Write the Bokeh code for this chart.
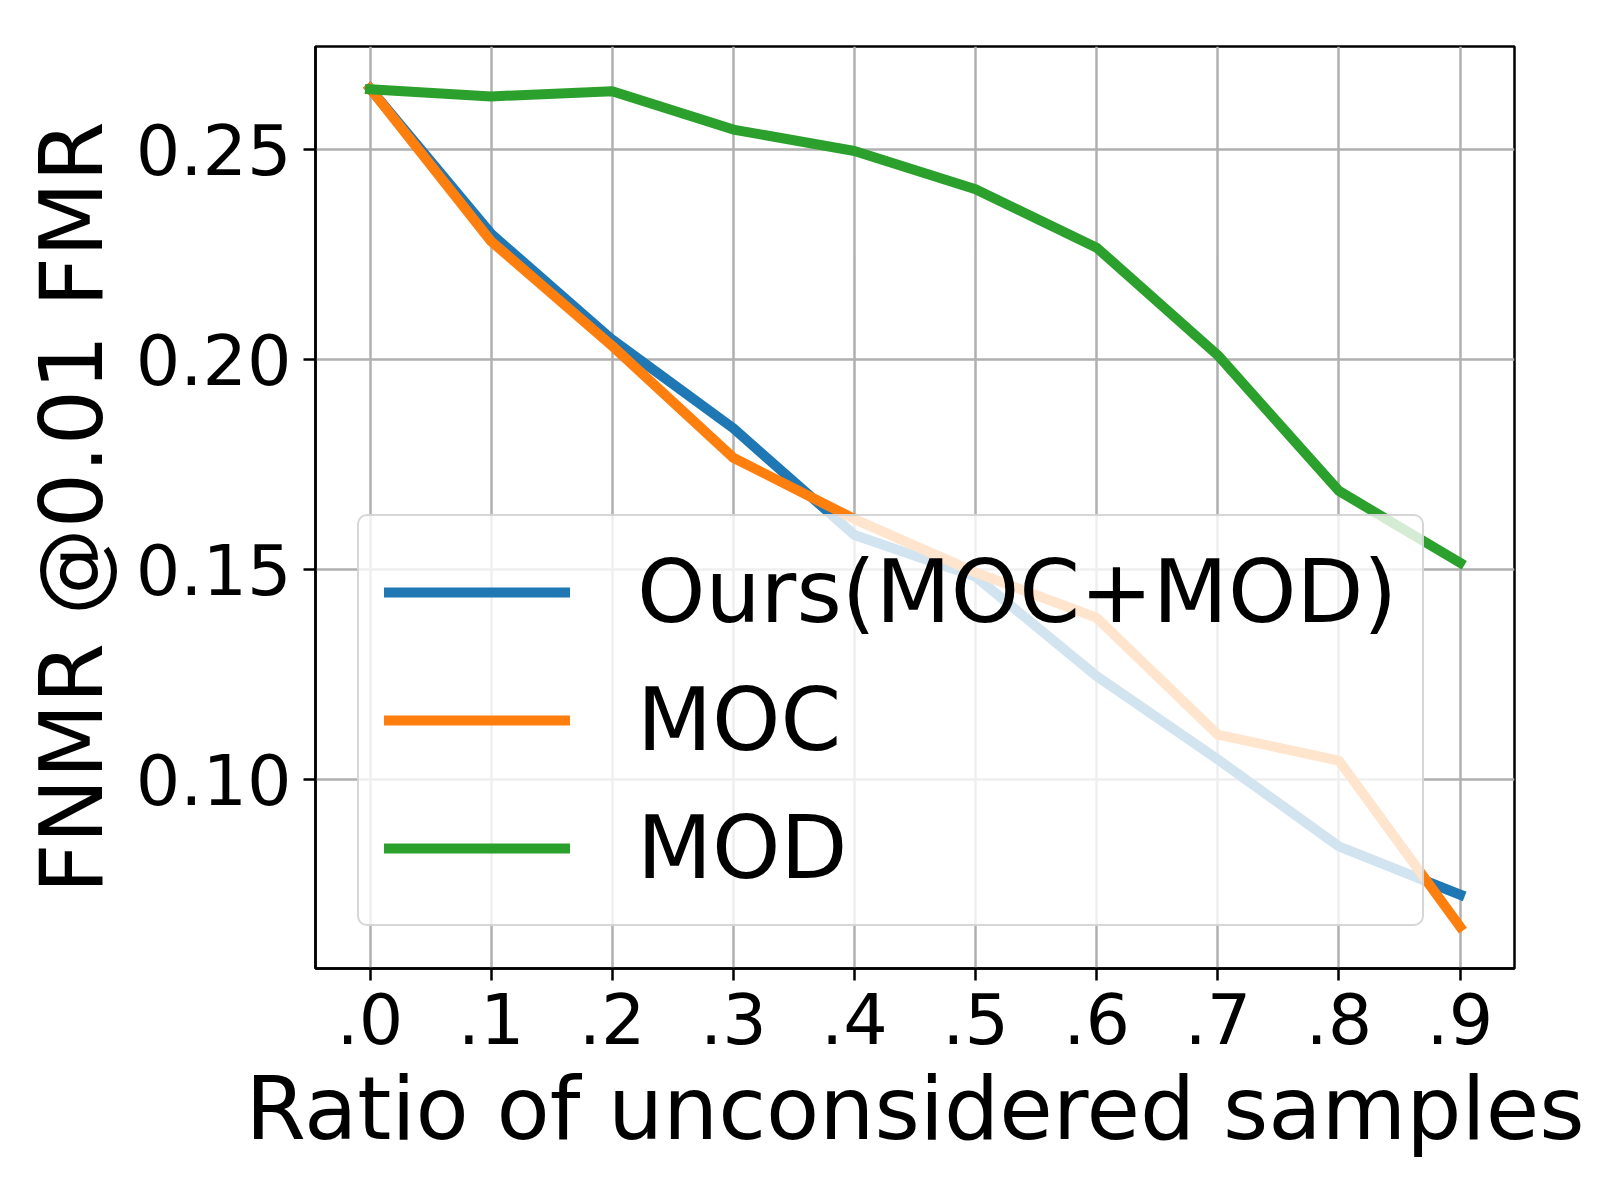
from bokeh.plotting import figure
from bokeh.models import Range1d, FixedTicker, PrintfTickFormatter, Legend, LegendItem
from bokeh.embed import file_html
from bokeh.resources import INLINE

# ---- data ----
ratios = [0.0, 0.1, 0.2, 0.3, 0.4, 0.5, 0.6, 0.7, 0.8, 0.9]
x_tick_labels = [".0", ".1", ".2", ".3", ".4", ".5", ".6", ".7", ".8", ".9"]
y_ticks = [0.10, 0.15, 0.20, 0.25]
ours = [0.2645, 0.2299, 0.2047, 0.1836, 0.1582, 0.1483, 0.1246, 0.1048, 0.0841, 0.0726]
moc = [0.2645, 0.2281, 0.2032, 0.1766, 0.1620, 0.1493, 0.1385, 0.1107, 0.1045, 0.0650]
mod = [0.2643, 0.2626, 0.2638, 0.2547, 0.2496, 0.2405, 0.2266, 0.2010, 0.1687, 0.1516]
series_names = ["Ours(MOC+MOD)", "MOC", "MOD"]
series_colors = ["#1f77b4", "#ff7f0e", "#2ca02c"]

FONT = "DejaVu Sans"

allv = ours + moc + mod
lo, hi = min(allv), max(allv)
pad = 0.05 * (hi - lo)
xpad = 0.05 * (max(ratios) - min(ratios))

p = figure(width=1584, height=1184, output_backend="svg", toolbar_location=None,
           x_range=Range1d(min(ratios) - xpad, max(ratios) + xpad),
           y_range=Range1d(lo - pad, hi + pad),
           min_border_left=315, min_border_top=46, min_border_right=70, min_border_bottom=216)
p.background_fill_color = "white"
p.border_fill_color = "white"
p.outline_line_color = "black"
p.outline_line_width = 2.5

renderers = []
for vals, c in zip([ours, moc, mod], series_colors):
    r = p.line(ratios, vals, line_color=c, line_width=10, line_cap="square", line_join="round")
    renderers.append(r)

# axes
p.xaxis.ticker = FixedTicker(ticks=ratios)
p.xaxis.major_label_overrides = {t: l for t, l in zip(ratios, x_tick_labels)}
p.yaxis.ticker = FixedTicker(ticks=y_ticks)
p.yaxis.formatter = PrintfTickFormatter(format="%.2f")
p.xaxis.axis_label = "Ratio of unconsidered samples"
p.yaxis.axis_label = "FNMR @0.01 FMR"
for ax in (p.xaxis, p.yaxis):
    ax.axis_label_text_font = FONT
    ax.axis_label_text_font_size = "87px"
    ax.axis_label_text_font_style = "normal"
    ax.axis_label_text_color = "black"
    ax.major_label_text_font = FONT
    ax.major_label_text_font_size = "70px"
    ax.major_label_text_color = "black"
    ax.axis_line_color = "black"
    ax.axis_line_width = 2.5
    ax.major_tick_line_color = "black"
    ax.major_tick_line_width = 2.5
    ax.major_tick_out = 12
    ax.major_tick_in = 0
    ax.minor_tick_line_color = None
p.xaxis.major_label_standoff = 12
p.xaxis.axis_label_standoff = 11
p.yaxis.major_label_standoff = 12
p.yaxis.axis_label_standoff = 10

p.grid.grid_line_color = "#b0b0b0"
p.grid.grid_line_width = 2.5
p.xgrid.ticker = FixedTicker(ticks=ratios)
p.ygrid.ticker = FixedTicker(ticks=y_ticks)

legend = Legend(items=[LegendItem(label=n, renderers=[r]) for n, r in zip(series_names, renderers)],
                location=(42, 42), orientation="vertical")
legend.label_text_font = FONT
legend.label_text_font_size = "87px"
legend.label_text_color = "black"
legend.label_height = 100
legend.glyph_height = 100
legend.glyph_width = 186
legend.label_standoff = 67
legend.spacing = 26
legend.padding = 25
legend.margin = 0
legend.background_fill_color = "white"
legend.background_fill_alpha = 0.8
legend.border_line_color = "#cccccc"
legend.border_line_alpha = 0.8
legend.border_line_width = 2.5
legend.border_radius = 10
p.add_layout(legend, "center")

open("out.html", "w").write(file_html(p, INLINE))
